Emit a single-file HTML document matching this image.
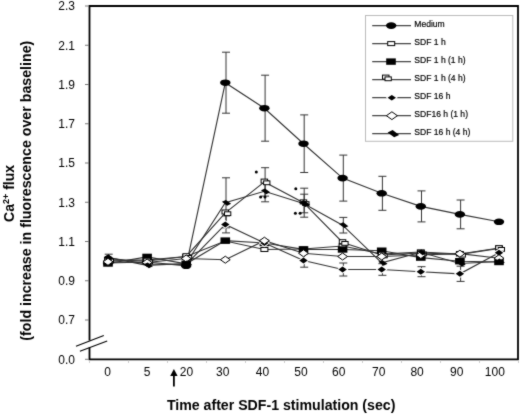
<!DOCTYPE html><html><head><meta charset="utf-8"><style>html,body{margin:0;padding:0;background:#fff;}svg{display:block;filter:grayscale(1);}text{font-family:"Liberation Sans",sans-serif;}</style></head><body>
<svg width="520" height="415" viewBox="0 0 520 415">
<defs><filter id="soft" x="0" y="0" width="1" height="1" color-interpolation-filters="sRGB"><feConvolveMatrix order="3" kernelMatrix="0.025 0.075 0.025 0.075 0.6 0.075 0.025 0.075 0.025" edgeMode="duplicate" preserveAlpha="true"/></filter></defs>
<rect width="520" height="415" fill="#fff"/>
<g filter="url(#soft)">
<rect width="520" height="415" fill="#fff"/>
<g fill="none" stroke="#000" stroke-width="1.8">
<path d="M89.5 340.5 V6 H518 V359.3 H89.5 V347.5"/>
</g>
<g stroke="#000" stroke-width="1.1" fill="none"><path d="M76 346.3 L103.8 335.6"/><path d="M79.9 351.3 L107.2 340.9"/></g>
<g stroke="#777" stroke-width="1">
<line x1="85" y1="6.00" x2="89" y2="6.00"/>
<line x1="85" y1="45.25" x2="89" y2="45.25"/>
<line x1="85" y1="84.50" x2="89" y2="84.50"/>
<line x1="85" y1="123.75" x2="89" y2="123.75"/>
<line x1="85" y1="163.00" x2="89" y2="163.00"/>
<line x1="85" y1="202.25" x2="89" y2="202.25"/>
<line x1="85" y1="241.50" x2="89" y2="241.50"/>
<line x1="85" y1="280.75" x2="89" y2="280.75"/>
<line x1="85" y1="320.00" x2="89" y2="320.00"/>
<line x1="85" y1="359.3" x2="89" y2="359.3"/>
</g>
<g font-size="12" text-anchor="end" fill="#000">
<text x="75" y="10.30">2.3</text>
<text x="75" y="49.55">2.1</text>
<text x="75" y="88.80">1.9</text>
<text x="75" y="128.05">1.7</text>
<text x="75" y="167.30">1.5</text>
<text x="75" y="206.55">1.3</text>
<text x="75" y="245.80">1.1</text>
<text x="75" y="285.05">0.9</text>
<text x="75" y="324.30">0.7</text>
<text x="75" y="363.6">0.0</text>
</g>
<g stroke="#ccc" stroke-width="1">
<line x1="89.5" y1="360" x2="89.5" y2="363"/>
<line x1="128.5" y1="360" x2="128.5" y2="363"/>
<line x1="167.5" y1="360" x2="167.5" y2="363"/>
<line x1="206.5" y1="360" x2="206.5" y2="363"/>
<line x1="245.5" y1="360" x2="245.5" y2="363"/>
<line x1="284.5" y1="360" x2="284.5" y2="363"/>
<line x1="323.5" y1="360" x2="323.5" y2="363"/>
<line x1="362.5" y1="360" x2="362.5" y2="363"/>
<line x1="401.5" y1="360" x2="401.5" y2="363"/>
<line x1="440.5" y1="360" x2="440.5" y2="363"/>
<line x1="479.5" y1="360" x2="479.5" y2="363"/>
<line x1="518.5" y1="360" x2="518.5" y2="363"/>
</g>
<g font-size="12" text-anchor="middle" fill="#000">
<text x="107.6" y="376">0</text>
<text x="147.0" y="376">5</text>
<text x="186.5" y="376">20</text>
<text x="222.7" y="376">30</text>
<text x="262.4" y="376">40</text>
<text x="300.9" y="376">50</text>
<text x="338.7" y="376">60</text>
<text x="378.8" y="376">70</text>
<text x="417.1" y="376">80</text>
<text x="456.8" y="376">90</text>
<text x="494.8" y="376">100</text>
</g>
<path d="M173.9 375 V386.5" stroke="#000" stroke-width="1.8"/>
<path d="M173.9 369 L177.6 376 L170.2 376 Z" fill="#000"/>
<text x="166.9" y="410.4" font-size="14" font-weight="bold" textLength="228.5" lengthAdjust="spacingAndGlyphs">Time after SDF-1 stimulation (sec)</text>
<g transform="rotate(-90)">
<text x="-340.7" y="30.9" font-size="14" font-weight="bold" textLength="300" lengthAdjust="spacingAndGlyphs">(fold increase in fluorescence over baseline)</text>
<text x="-221.9" y="13.8" font-size="14" font-weight="bold">Ca<tspan font-size="9" dy="-5">2+</tspan><tspan dy="5"> flux</tspan></text>
</g>
<g stroke="#333" stroke-width="1" fill="none">
<path d="M226.0 52.2 V113.2 M222.0 52.2 H230.0 M222.0 113.2 H230.0"/><path d="M265.1 75.2 V141.2 M261.1 75.2 H269.1 M261.1 141.2 H269.1"/><path d="M304.2 114.9 V172.5 M300.2 114.9 H308.2 M300.2 172.5 H308.2"/><path d="M343.3 155.1 V201.1 M339.3 155.1 H347.3 M339.3 201.1 H347.3"/><path d="M382.4 176.3 V210.3 M378.4 176.3 H386.4 M378.4 210.3 H386.4"/><path d="M421.5 190.9 V221.9 M417.5 190.9 H425.5 M417.5 221.9 H425.5"/><path d="M460.6 200.0 V228.8 M456.6 200.0 H464.6 M456.6 228.8 H464.6"/>
<path d="M265.1 167.7 V196.1 M261.1 167.7 H269.1 M261.1 196.1 H269.1"/><path d="M304.2 188.2 V217.2 M300.2 188.2 H308.2 M300.2 217.2 H308.2"/>
<path d="M226.0 215.9 V232.9 M222.0 215.9 H230.0 M222.0 232.9 H230.0"/><path d="M304.2 253.8 V267.2 M300.2 253.8 H308.2 M300.2 267.2 H308.2"/><path d="M343.3 263.0 V276.0 M339.3 263.0 H347.3 M339.3 276.0 H347.3"/><path d="M382.4 263.7 V275.3 M378.4 263.7 H386.4 M378.4 275.3 H386.4"/><path d="M421.5 266.7 V276.7 M417.5 266.7 H425.5 M417.5 276.7 H425.5"/><path d="M460.6 266.2 V281.4 M456.6 266.2 H464.6 M456.6 281.4 H464.6"/>
<path d="M108.7 254.2 V260.8 M104.7 254.2 H112.7 M104.7 260.8 H112.7"/><path d="M226.0 177.8 V227.8 M222.0 177.8 H230.0 M222.0 227.8 H230.0"/><path d="M265.1 180.8 V201.8 M261.1 180.8 H269.1 M261.1 201.8 H269.1"/><path d="M304.2 194.2 V212.8 M300.2 194.2 H308.2 M300.2 212.8 H308.2"/><path d="M343.3 217.4 V233.0 M339.3 217.4 H347.3 M339.3 233.0 H347.3"/>
</g>
<g stroke="#333" stroke-width="1.15" fill="none">
<polyline points="108.0,263.0 147.1,262.0 186.2,265.8 225.3,82.7 264.4,108.2 303.5,143.7 342.6,178.1 381.7,193.3 420.8,206.4 459.9,214.4 499.0,221.8"/>
<polyline points="108.0,260.0 147.1,260.0 186.2,256.5 225.3,241.0 264.4,249.5 303.5,249.0 342.6,246.0 381.7,254.0 420.8,252.0 459.9,254.0 499.0,248.0"/>
<polyline points="108.0,263.5 147.1,256.9 186.2,263.8 225.3,240.6 264.4,243.0 303.5,249.4 342.6,249.5 381.7,250.7 420.8,257.6 459.9,261.2 499.0,262.0"/>
<polyline points="108.0,260.0 147.1,261.0 186.2,256.5 225.3,212.8 264.4,181.9 303.5,202.7 342.6,242.5 381.7,255.0 420.8,253.0 459.9,254.3 499.0,248.5"/>
<polyline points="108.0,257.5 147.1,264.0 186.2,264.5 225.3,224.4 264.4,243.0 303.5,260.5 342.6,269.5 381.7,269.5 420.8,271.7 459.9,273.8 499.0,252.7"/>
<polyline points="108.0,261.8 147.1,262.5 186.2,258.5 225.3,259.7 264.4,240.7 303.5,253.3 342.6,256.5 381.7,256.5 420.8,255.0 459.9,253.7 499.0,258.2"/>
<polyline points="108.0,257.5 147.1,265.3 186.2,263.5 225.3,202.8 264.4,191.3 303.5,203.5 342.6,225.2 381.7,262.8 420.8,252.3 459.9,263.5 499.0,261.5"/>
</g>
<ellipse cx="108.0" cy="263.0" rx="5.2" ry="3.3" fill="#000"/>
<ellipse cx="147.1" cy="262.0" rx="5.2" ry="3.3" fill="#000"/>
<ellipse cx="186.2" cy="265.8" rx="5.2" ry="3.3" fill="#000"/>
<ellipse cx="225.3" cy="82.7" rx="5.2" ry="3.3" fill="#000"/>
<ellipse cx="264.4" cy="108.2" rx="5.2" ry="3.3" fill="#000"/>
<ellipse cx="303.5" cy="143.7" rx="5.2" ry="3.3" fill="#000"/>
<ellipse cx="342.6" cy="178.1" rx="5.2" ry="3.3" fill="#000"/>
<ellipse cx="381.7" cy="193.3" rx="5.2" ry="3.3" fill="#000"/>
<ellipse cx="420.8" cy="206.4" rx="5.2" ry="3.3" fill="#000"/>
<ellipse cx="459.9" cy="214.4" rx="5.2" ry="3.3" fill="#000"/>
<ellipse cx="499.0" cy="221.8" rx="5.2" ry="3.3" fill="#000"/>
<rect x="104.5" y="258.0" width="7" height="4" fill="#fff" stroke="#000" stroke-width="1"/>
<rect x="143.6" y="258.0" width="7" height="4" fill="#fff" stroke="#000" stroke-width="1"/>
<rect x="182.7" y="254.5" width="7" height="4" fill="#fff" stroke="#000" stroke-width="1"/>
<rect x="221.8" y="239.0" width="7" height="4" fill="#fff" stroke="#000" stroke-width="1"/>
<rect x="260.9" y="247.5" width="7" height="4" fill="#fff" stroke="#000" stroke-width="1"/>
<rect x="300.0" y="247.0" width="7" height="4" fill="#fff" stroke="#000" stroke-width="1"/>
<rect x="339.1" y="244.0" width="7" height="4" fill="#fff" stroke="#000" stroke-width="1"/>
<rect x="378.2" y="252.0" width="7" height="4" fill="#fff" stroke="#000" stroke-width="1"/>
<rect x="417.3" y="250.0" width="7" height="4" fill="#fff" stroke="#000" stroke-width="1"/>
<rect x="456.4" y="252.0" width="7" height="4" fill="#fff" stroke="#000" stroke-width="1"/>
<rect x="495.5" y="246.0" width="7" height="4" fill="#fff" stroke="#000" stroke-width="1"/>
<rect x="103.2" y="260.3" width="9.6" height="6.4" fill="#000"/>
<rect x="142.3" y="253.7" width="9.6" height="6.4" fill="#000"/>
<rect x="181.4" y="260.6" width="9.6" height="6.4" fill="#000"/>
<rect x="220.5" y="237.4" width="9.6" height="6.4" fill="#000"/>
<rect x="259.6" y="239.8" width="9.6" height="6.4" fill="#000"/>
<rect x="298.7" y="246.2" width="9.6" height="6.4" fill="#000"/>
<rect x="337.8" y="246.3" width="9.6" height="6.4" fill="#000"/>
<rect x="376.9" y="247.5" width="9.6" height="6.4" fill="#000"/>
<rect x="416.0" y="254.4" width="9.6" height="6.4" fill="#000"/>
<rect x="455.1" y="258.0" width="9.6" height="6.4" fill="#000"/>
<rect x="494.2" y="258.8" width="9.6" height="6.4" fill="#000"/>
<rect x="104.7" y="257.2" width="6.5" height="4" fill="#fff" stroke="#000" stroke-width="1"/><rect x="107.2" y="259.0" width="6.3" height="3.8" fill="#fff" stroke="#000" stroke-width="1"/>
<rect x="143.8" y="258.2" width="6.5" height="4" fill="#fff" stroke="#000" stroke-width="1"/><rect x="146.3" y="260.0" width="6.3" height="3.8" fill="#fff" stroke="#000" stroke-width="1"/>
<rect x="182.9" y="253.7" width="6.5" height="4" fill="#fff" stroke="#000" stroke-width="1"/><rect x="185.4" y="255.5" width="6.3" height="3.8" fill="#fff" stroke="#000" stroke-width="1"/>
<rect x="222.0" y="210.0" width="6.5" height="4" fill="#fff" stroke="#000" stroke-width="1"/><rect x="224.5" y="211.8" width="6.3" height="3.8" fill="#fff" stroke="#000" stroke-width="1"/>
<rect x="261.1" y="179.1" width="6.5" height="4" fill="#fff" stroke="#000" stroke-width="1"/><rect x="263.6" y="180.9" width="6.3" height="3.8" fill="#fff" stroke="#000" stroke-width="1"/>
<rect x="300.2" y="199.9" width="6.5" height="4" fill="#fff" stroke="#000" stroke-width="1"/><rect x="302.7" y="201.7" width="6.3" height="3.8" fill="#fff" stroke="#000" stroke-width="1"/>
<rect x="339.3" y="239.7" width="6.5" height="4" fill="#fff" stroke="#000" stroke-width="1"/><rect x="341.8" y="241.5" width="6.3" height="3.8" fill="#fff" stroke="#000" stroke-width="1"/>
<rect x="378.4" y="252.2" width="6.5" height="4" fill="#fff" stroke="#000" stroke-width="1"/><rect x="380.9" y="254.0" width="6.3" height="3.8" fill="#fff" stroke="#000" stroke-width="1"/>
<rect x="417.5" y="250.2" width="6.5" height="4" fill="#fff" stroke="#000" stroke-width="1"/><rect x="420.0" y="252.0" width="6.3" height="3.8" fill="#fff" stroke="#000" stroke-width="1"/>
<rect x="456.6" y="251.5" width="6.5" height="4" fill="#fff" stroke="#000" stroke-width="1"/><rect x="459.1" y="253.3" width="6.3" height="3.8" fill="#fff" stroke="#000" stroke-width="1"/>
<rect x="495.7" y="245.7" width="6.5" height="4" fill="#fff" stroke="#000" stroke-width="1"/><rect x="498.2" y="247.5" width="6.3" height="3.8" fill="#fff" stroke="#000" stroke-width="1"/>
<path d="M108.00 254.50 L112.20 257.50 L108.00 260.50 L103.80 257.50 Z" fill="#000" stroke="none" paint-order="stroke"/>
<path d="M147.10 261.00 L151.30 264.00 L147.10 267.00 L142.90 264.00 Z" fill="#000" stroke="none" paint-order="stroke"/>
<path d="M186.20 261.50 L190.40 264.50 L186.20 267.50 L182.00 264.50 Z" fill="#000" stroke="none" paint-order="stroke"/>
<path d="M225.30 221.40 L229.50 224.40 L225.30 227.40 L221.10 224.40 Z" fill="#000" stroke="#fff" stroke-width="2" paint-order="stroke"/>
<path d="M264.40 240.00 L268.60 243.00 L264.40 246.00 L260.20 243.00 Z" fill="#000" stroke="#fff" stroke-width="2" paint-order="stroke"/>
<path d="M303.50 257.50 L307.70 260.50 L303.50 263.50 L299.30 260.50 Z" fill="#000" stroke="#fff" stroke-width="2" paint-order="stroke"/>
<path d="M342.60 266.50 L346.80 269.50 L342.60 272.50 L338.40 269.50 Z" fill="#000" stroke="#fff" stroke-width="2" paint-order="stroke"/>
<path d="M381.70 266.50 L385.90 269.50 L381.70 272.50 L377.50 269.50 Z" fill="#000" stroke="#fff" stroke-width="2" paint-order="stroke"/>
<path d="M420.80 268.70 L425.00 271.70 L420.80 274.70 L416.60 271.70 Z" fill="#000" stroke="#fff" stroke-width="2" paint-order="stroke"/>
<path d="M459.90 270.80 L464.10 273.80 L459.90 276.80 L455.70 273.80 Z" fill="#000" stroke="#fff" stroke-width="2" paint-order="stroke"/>
<path d="M499.00 249.70 L503.20 252.70 L499.00 255.70 L494.80 252.70 Z" fill="#000" stroke="#fff" stroke-width="2" paint-order="stroke"/>
<path d="M108.00 258.30 L112.90 261.80 L108.00 265.30 L103.10 261.80 Z" fill="#fff" stroke="#000" stroke-width="1"/>
<path d="M147.10 259.00 L152.00 262.50 L147.10 266.00 L142.20 262.50 Z" fill="#fff" stroke="#000" stroke-width="1"/>
<path d="M186.20 255.00 L191.10 258.50 L186.20 262.00 L181.30 258.50 Z" fill="#fff" stroke="#000" stroke-width="1"/>
<path d="M225.30 256.20 L230.20 259.70 L225.30 263.20 L220.40 259.70 Z" fill="#fff" stroke="#000" stroke-width="1"/>
<path d="M264.40 237.20 L269.30 240.70 L264.40 244.20 L259.50 240.70 Z" fill="#fff" stroke="#000" stroke-width="1"/>
<path d="M303.50 249.80 L308.40 253.30 L303.50 256.80 L298.60 253.30 Z" fill="#fff" stroke="#000" stroke-width="1"/>
<path d="M342.60 253.00 L347.50 256.50 L342.60 260.00 L337.70 256.50 Z" fill="#fff" stroke="#000" stroke-width="1"/>
<path d="M381.70 253.00 L386.60 256.50 L381.70 260.00 L376.80 256.50 Z" fill="#fff" stroke="#000" stroke-width="1"/>
<path d="M420.80 251.50 L425.70 255.00 L420.80 258.50 L415.90 255.00 Z" fill="#fff" stroke="#000" stroke-width="1"/>
<path d="M459.90 250.20 L464.80 253.70 L459.90 257.20 L455.00 253.70 Z" fill="#fff" stroke="#000" stroke-width="1"/>
<path d="M499.00 254.70 L503.90 258.20 L499.00 261.70 L494.10 258.20 Z" fill="#fff" stroke="#000" stroke-width="1"/>
<path d="M104.60 256.50 L108.60 254.60 L113.80 258.50 L109.80 260.40 Z" fill="#000"/>
<path d="M143.70 264.30 L147.70 262.40 L152.90 266.30 L148.90 268.20 Z" fill="#000"/>
<path d="M182.80 262.50 L186.80 260.60 L192.00 264.50 L188.00 266.40 Z" fill="#000"/>
<path d="M221.90 201.80 L225.90 199.90 L231.10 203.80 L227.10 205.70 Z" fill="#000"/>
<path d="M261.00 190.30 L265.00 188.40 L270.20 192.30 L266.20 194.20 Z" fill="#000"/>
<path d="M300.10 202.50 L304.10 200.60 L309.30 204.50 L305.30 206.40 Z" fill="#000"/>
<path d="M339.20 224.20 L343.20 222.30 L348.40 226.20 L344.40 228.10 Z" fill="#000"/>
<path d="M378.30 261.80 L382.30 259.90 L387.50 263.80 L383.50 265.70 Z" fill="#000"/>
<path d="M417.40 251.30 L421.40 249.40 L426.60 253.30 L422.60 255.20 Z" fill="#000"/>
<path d="M456.50 262.50 L460.50 260.60 L465.70 264.50 L461.70 266.40 Z" fill="#000"/>
<path d="M495.60 260.50 L499.60 258.60 L504.80 262.50 L500.80 264.40 Z" fill="#000"/>
<path d="M108.00 258.30 L112.90 261.80 L108.00 265.30 L103.10 261.80 Z" fill="#fff" stroke="#000" stroke-width="1"/>
<path d="M298.98 202.30 L303.78 200.02 L310.02 204.70 L305.22 206.98 Z" fill="#000"/>
<g fill="#000">
<circle cx="256.3" cy="171.9" r="1.5"/>
<circle cx="260.6" cy="196.9" r="1.5"/>
<circle cx="265.0" cy="196.9" r="1.5"/>
<circle cx="295.8" cy="188.7" r="1.5"/>
<circle cx="295.4" cy="213.3" r="1.5"/>
<circle cx="300.1" cy="213.3" r="1.5"/>
</g>
<rect x="365.5" y="15.5" width="147.3" height="125.8" fill="#fff" stroke="#bbb" stroke-width="1"/>
<g stroke="#444" stroke-width="1.2">
<line x1="372.2" y1="25.6" x2="411" y2="25.6"/>
<line x1="372.2" y1="43.6" x2="411" y2="43.6"/>
<line x1="372.2" y1="61.6" x2="411" y2="61.6"/>
<line x1="372.2" y1="79.6" x2="411" y2="79.6"/>
<line x1="372.2" y1="97.7" x2="411" y2="97.7"/>
<line x1="372.2" y1="115.7" x2="411" y2="115.7"/>
<line x1="372.2" y1="133.7" x2="411" y2="133.7"/>
</g>
<ellipse cx="391.2" cy="25.6" rx="5.2" ry="3.3" fill="#000"/>
<rect x="387.7" y="41.6" width="7" height="4" fill="#fff" stroke="#000" stroke-width="1"/>
<rect x="386.2" y="58.4" width="9.6" height="6.4" fill="#000"/>
<rect x="382.5" y="75.1" width="6.5" height="4" fill="#fff" stroke="#000" stroke-width="1"/><rect x="385.0" y="76.9" width="6.3" height="3.8" fill="#fff" stroke="#000" stroke-width="1"/>
<path d="M391.80 95.00 L396.00 97.70 L391.80 100.40 L387.60 97.70 Z" fill="#000" stroke="#fff" stroke-width="2" paint-order="stroke"/>
<path d="M391.90 111.80 L397.40 115.70 L391.90 119.60 L386.40 115.70 Z" fill="#fff" stroke="#000" stroke-width="1"/>
<path d="M387.65 132.45 L392.65 130.07 L399.15 134.95 L394.15 137.32 Z" fill="#000"/>
<g font-size="8.55" fill="#000" stroke="#000" stroke-width="0.18">
<text x="414.3" y="26.7">Medium</text>
<text x="414.3" y="44.7">SDF 1 h</text>
<text x="414.3" y="62.7">SDF 1 h (1 h)</text>
<text x="414.3" y="80.7">SDF 1 h (4 h)</text>
<text x="414.3" y="98.8">SDF 16 h</text>
<text x="414.3" y="116.8">SDF16 h (1 h)</text>
<text x="414.3" y="134.8">SDF 16 h (4 h)</text>
</g>
</g>
</svg></body></html>
